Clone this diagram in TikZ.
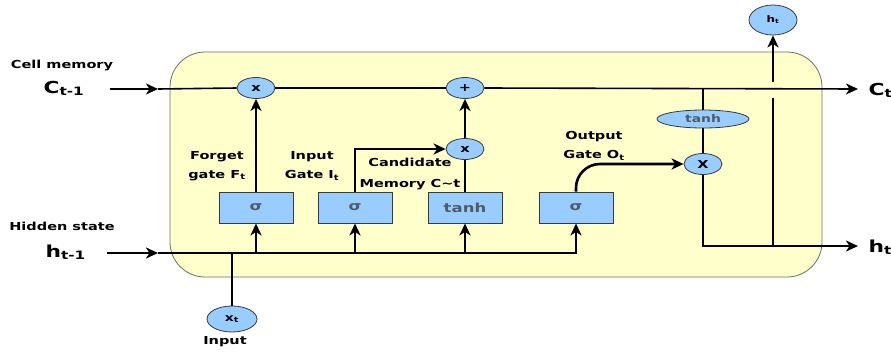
\documentclass[tikz,border=0pt]{standalone}
\usepackage{xcolor}
\usepackage{fontspec}
\setmainfont{DejaVu Sans}[FakeStretch=1.32]
\usepackage{tikz}
\usetikzlibrary{shapes.geometric, arrows.meta, positioning, calc}
\definecolor{cellfill}{RGB}{255,255,204}
\definecolor{celledge}{RGB}{110,110,100}
\definecolor{gatefill}{RGB}{153,204,255}
\definecolor{gateedge}{RGB}{54,57,61}
\definecolor{gatetext}{RGB}{80,90,105}

\begin{document}
\begin{tikzpicture}[x=1pt,y=-1pt, font=\bfseries\fontsize{11}{12}\selectfont,
  wire/.style={draw=black, line width=2.6pt},
  memline/.style={draw=black, line width=1.6pt},
  arr/.style={wire, -{Stealth[length=12pt,width=11pt,inset=3.5pt]}},
  memarr/.style={memline, -{Stealth[length=12pt,width=11pt,inset=3.5pt]}},
  gate/.style={rectangle, draw=gateedge, fill=gatefill, line width=0.8pt, minimum width=74pt, minimum height=31pt, inner sep=0pt, text=gatetext, font=\bfseries\fontsize{12.5}{13}\selectfont},
  op/.style={ellipse, draw=gateedge, fill=gatefill, line width=0.8pt, minimum width=38pt, minimum height=21pt, inner sep=0pt, font=\bfseries\fontsize{11}{12}\selectfont},
  lbl/.style={align=center, font=\bfseries\fontsize{11}{19}\selectfont},
  big/.style={anchor=base west, font=\bfseries\fontsize{16.5}{19}\selectfont},
]
\useasboundingbox (0,0) rectangle (891,351);
% ---------- cell body ----------
\draw[draw=celledge, fill=cellfill, line width=0.8pt, rounded corners=35pt] (170,52) rectangle (822,277);
% ---------- gates and pointwise ops ----------
\node[gate] (fsig) at (256,207.5) {σ};
\node[gate] (isig) at (355,207.5) {σ};
\node[gate] (ctanh) at (465,207.5) {tanh};
\node[gate] (osig) at (576,207.5) {σ};
\node[op] (mulF) at (256,88) {x};
\node[op] (add) at (465,88) {+};
\node[op] (mulC) at (465,149) {x};
\node[op] (omul) at (703,164) {X};
\node[op, minimum width=92pt, minimum height=18pt, text=gatetext, font=\bfseries\fontsize{10.5}{11}\selectfont] (ttanh) at (703,119) {tanh};
\node[op, minimum width=48pt, minimum height=30pt, font=\bfseries\fontsize{9}{10}\selectfont] (hout) at (773,20) {h\textsubscript{t}};
\node[op, minimum width=50pt, minimum height=26pt, font=\bfseries\fontsize{10.5}{11}\selectfont] (xin) at (232,319) {x\textsubscript{t}};
% ---------- free ends ----------
\coordinate (cin)  at (110,89);
\coordinate (cinT) at (158,89);
\coordinate (cout) at (858,89);
\coordinate (tj)   at (703,89);
\coordinate (hin)  at (107,253);
\coordinate (hinT) at (158,253);
\coordinate (hR)   at (858,246);
\coordinate (hj)   at (773,246);
\coordinate (gapB) at (773,98);
\coordinate (gapT) at (773,82);
% ---------- cell memory line ----------
\draw[memarr] (cin) -- (cinT);
\draw[memline] (cinT) -- (mulF.west);
\draw[memline] (mulF.east) -- (add.west);
\draw[memarr] (add.east) -- (cout);
% ---------- hidden state bus ----------
\draw[arr] (hin) -- (hinT);
\draw[arr] (hinT) -| (osig.south);
\draw[arr] (fsig.south |- hinT) -- (fsig.south);
\draw[arr] (isig.south |- hinT) -- (isig.south);
\draw[arr] (ctanh.south |- hinT) -- (ctanh.south);
\draw[wire] (xin.north) -- (xin.north |- hinT);
% ---------- gate links ----------
\draw[arr] (fsig.north) -- (mulF.south);
\draw[arr] (isig.north) |- (mulC.west);
\draw[wire] (ctanh.north) -- (mulC.south);
\draw[arr] (mulC.north) -- (add.south);
\draw[arr, rounded corners=24pt] (osig.north) |- (omul.west);
% ---------- output ----------
\draw[wire] (tj) -- (ttanh.north);
\draw[wire] (ttanh.south) -- (omul.north);
\draw[arr] (omul.south) |- (hR);
\draw[wire] (hj) -- (gapB);
\draw[arr] (gapT) -- (hout.south);
% ---------- labels ----------
\node (lblCell) at (62,66) {Cell memory};
\node[big] (lblCin) at (40,93) {C\textsubscript{t-1}};
\node (lblHid) at (62,226) {Hidden state};
\node[big] (lblHin) at (42,257) {h\textsubscript{t-1}};
\node[big] (lblCout) at (865,95) {C\textsubscript{t}};
\node[big] (lblHout) at (865,252) {h\textsubscript{t}};
\node[lbl] (lblF) at (217,166) {Forget\\gate F\textsubscript{t}};
\node[lbl] (lblI) at (312,166) {Input\\Gate I\textsubscript{t}};
\node[lbl, font=\bfseries\fontsize{11}{21}\selectfont] (lblC) at (410,174) {Candidate\\Memory C\textasciitilde t};
\node[lbl] (lblO) at (594,146) {Output\\Gate O\textsubscript{t}};
\node (lblX) at (225,342) {Input};
\end{tikzpicture}
\end{document}
